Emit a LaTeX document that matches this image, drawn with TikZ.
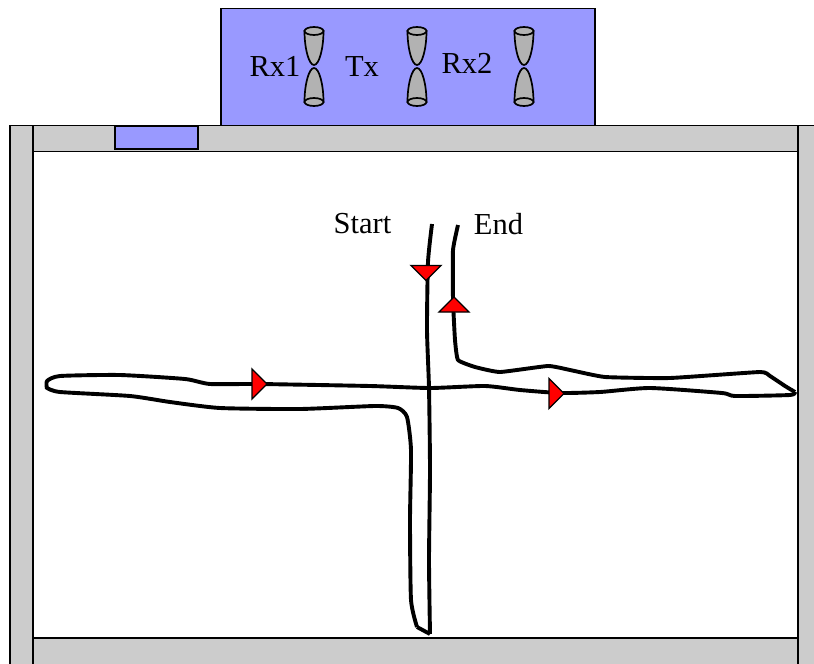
\documentclass[tikz,border=0pt]{standalone}
\usepackage{fontspec}
\setmainfont{Liberation Serif}
\usetikzlibrary{arrows.meta,positioning,calc}
\definecolor{cWall}{HTML}{cccccc}
\definecolor{cBlue}{HTML}{9999ff}
\definecolor{cHorn}{HTML}{b2b2b2}
\tikzset{
  wall/.style={draw=black,line width=1.3pt,fill=cWall},
  panel/.style={draw=black,line width=1.5pt,fill=cBlue},
  track/.style={draw=black,line width=3.9pt,line join=round,line cap=butt},
  lbl/.style={inner sep=0pt,font=\fontsize{30.5}{32}\selectfont},
  pics/horn/.style={code={
    \draw[line width=1.7pt,fill=cHorn] (-9.5,-34) .. controls (-9.5,-16) and (-5,0) .. (0,0)
      .. controls (5,0) and (9.5,-16) .. (9.5,-34) -- cycle;
    \draw[line width=1.7pt,fill=cHorn] (0,-34) ellipse [x radius=9.5,y radius=4];
  }},
  pics/antenna/.style={code={
    \pic at (0,-1.5) {horn};
    \pic[rotate=180] at (0,1.5) {horn};
  }},
  pics/marker/.style={code={
    \draw[line width=1.3pt,fill=red,line join=miter] (-7.5,-15) -- (7.5,0) -- (-7.5,15) -- cycle;
  }},
}
\begin{document}
\begin{tikzpicture}[x=1pt,y=-1pt]
  \useasboundingbox (0,0) rectangle (814,664);
  % room walls
  \draw[wall] (33,125.5) rectangle (798,151.5);
  \draw[wall] (33,638) rectangle (798,668);
  \draw[wall] (10,125.5) rectangle (33,668);
  \draw[wall] (798,125.5) rectangle (818,668);
  % cart
  \draw[panel] (221,8.5) rectangle (595,125.5);
  \draw[panel] (115,126) rectangle (198,149);
  \pic at (314,66.5) {antenna};
  \pic at (417,66.5) {antenna};
  \pic at (524,66.5) {antenna};
  \node[lbl](rxA) at (275,66.5){Rx1};
  \node[lbl](tx) at (362,66.5){Tx};
  \node[lbl](rxB) at (467,63.5){Rx2};
  % measured route
  \draw[track] plot[smooth,tension=.35] coordinates {
    (432,224) (428,262) (427,330) (429,388) (430,470) (429,560) (430,634)};
  \draw[track] (430,634) -- (417,627);
  \draw[track] plot[smooth,tension=.35] coordinates {
    (417,627) (411,600) (410,520) (411,450) (407,417) (398,408) (375,406)
    (300,409) (220,408) (170,402) (130,396) (60,392) (47,388)};
  \draw[track] plot[smooth,tension=.35] coordinates {
    (47,389) (47,381) (60,376) (120,375) (185,379) (210,384) (260,384)
    (370,386) (430,388) (485,386) (520,390) (560,393) (600,392) (650,388)
    (722,393) (735,396) (790,395) (795,392)};
  \draw[track] plot[smooth,tension=.25] coordinates {
    (795,392) (785,386) (770,376) (760,372) (670,378) (605,377) (570,370)
    (548,366) (500,372) (475,367) (458,360) (455,340) (453,300) (453,250) (458,225)};
  \pic[rotate=-90] at (426,273) {marker};
  \pic[rotate=90] at (454,304.5) {marker};
  \pic at (259.5,384) {marker};
  \pic at (556.5,393.5) {marker};
  \node[lbl](start) at (362.5,224){Start};
  \node[lbl](finish) at (498.5,224){End};
\end{tikzpicture}
\end{document}
